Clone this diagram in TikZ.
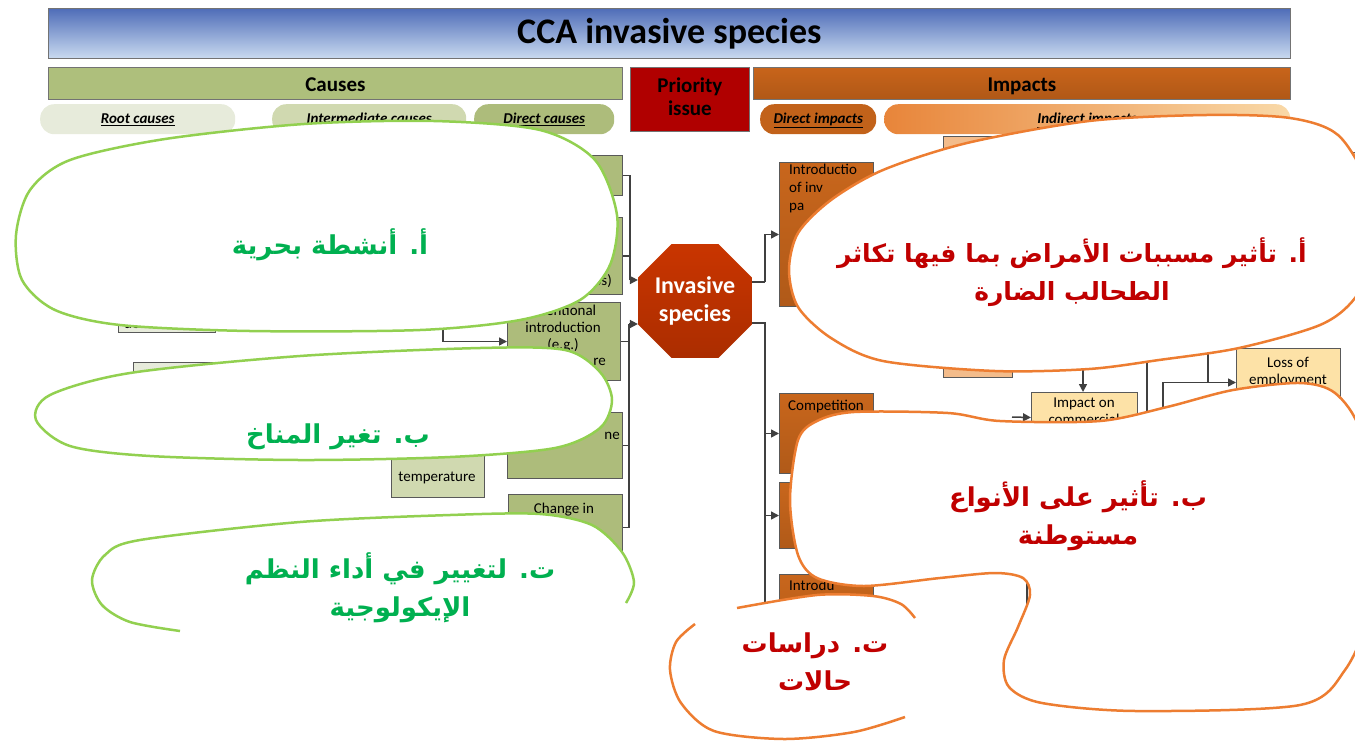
\documentclass[tikz,border=0pt]{standalone}
\usepackage{fontspec}
\setmainfont{Carlito}
\newfontfamily\arabicfont[Script=Arabic]{DejaVu Sans}
\TeXXeTstate=1
\usetikzlibrary{shapes.geometric,arrows.meta}
\definecolor{titletop}{HTML}{4F6DB8}
\definecolor{titlebot}{HTML}{C9DAF0}
\definecolor{causegreen}{HTML}{AEBF7C}
\definecolor{prioRed}{HTML}{B00000}
\definecolor{impactor}{HTML}{C8641A}
\definecolor{rootfill}{HTML}{E7EBDB}
\definecolor{interfill}{HTML}{D0D9B0}
\definecolor{directfill}{HTML}{ADBC7B}
\definecolor{dimpfill}{HTML}{C2621A}
\definecolor{indleft}{HTML}{E8853A}
\definecolor{indright}{HTML}{F9D9A8}
\definecolor{invred}{HTML}{C93500}
\definecolor{dibox}{HTML}{C8661C}
\definecolor{indbox}{HTML}{F3BC8B}
\definecolor{yelbox}{HTML}{FDE2A7}
\definecolor{blobgreen}{HTML}{92D050}
\definecolor{txtgreen}{HTML}{00B050}
\definecolor{bloborange}{HTML}{ED7D31}
\definecolor{txtred}{HTML}{C00000}
\definecolor{linkgray}{HTML}{404040}

\begin{document}
\begin{tikzpicture}[x=1pt,y=-1pt,
    sz/.style 2 args={minimum width=#1,minimum height=#2,anchor=north west},
    bar/.style={draw=black!55,line width=0.8pt,inner sep=0pt,font=\bfseries\fontsize{21}{24}\selectfont},
    onebar/.style={bar,text height=16pt,text depth=0pt},
    pill/.style={rounded corners=14pt,inner sep=0pt,text height=11pt,text depth=3pt,font=\bfseries\itshape\fontsize{15}{18}\selectfont},
    cbox/.style={draw=black!65,line width=1pt,inner sep=0pt},
    dibx/.style={cbox,top color=dibox,bottom color=dibox!88!black},
    btext/.style={inner sep=0pt,align=center,font=\fontsize{15}{17}\selectfont},
    link/.style={draw=linkgray,line width=1.5pt},
    arr/.style={link,-{Triangle[length=8pt,width=8pt]}},
    gblob/.style={draw=blobgreen,line width=2.5pt,fill=white},
    oblob/.style={draw=bloborange,line width=2.5pt,fill=white},
    gline/.style={draw=blobgreen,line width=2.5pt},
    oline/.style={draw=bloborange,line width=2.5pt},
    artext/.style={font=\arabicfont\bfseries\fontsize{26}{38}\selectfont,align=center,inner sep=0pt}]
    \useasboundingbox (0,0) rectangle (1355,740);
    \clip (0,0) rectangle (1355,740);

    \node[bar,sz={1242}{50},top color=titletop,bottom color=titlebot,font=\bfseries\fontsize{36}{40}\selectfont] (title) at (48,8) {CCA invasive species};
    \node[onebar,sz={574}{32},fill=causegreen] (causes) at (48,67) {Causes};
    \node[bar,sz={119}{64},fill=prioRed,align=center,font=\bfseries\fontsize{21}{23}\selectfont] (prio) at (630,67) {Priority\\issue\\[-17pt]};
    \node[onebar,sz={537}{32},top color=impactor,bottom color=impactor!88!black] (impacts) at (753,67) {Impacts};

    \node[pill,sz={195}{30},fill=rootfill] (rootp) at (40,104) {\underline{Root causes}};
    \node[pill,sz={194}{30},fill=interfill] (interp) at (272,104) {\underline{Intermediate causes}};
    \node[pill,sz={140}{30},fill=directfill] (directp) at (474,104) {\underline{Direct causes}};
    \node[pill,sz={116}{30},fill=dimpfill] (dimpp) at (760,104) {\underline{Direct impacts}};
    \node[pill,sz={406}{30},left color=indleft,right color=indright] (indp) at (884,104) {\underline{Indirect impacts}};

    \node[cbox,sz={97}{32},fill=rootfill] (root1) at (118,300) {};
    \node[cbox,sz={87}{50},fill=rootfill] (root2) at (133,362) {};
    \node[cbox,sz={93}{67},fill=interfill] (inter1) at (391,430) {};
    \node[cbox,sz={114}{40},fill=directfill] (dc1) at (508,155) {};
    \node[cbox,sz={114}{77},fill=directfill] (dc2) at (508,217) {};
    \node[cbox,sz={113}{78},fill=directfill] (dc3) at (507,302) {};
    \node[cbox,sz={115}{66},fill=directfill] (dc4) at (507,412) {};
    \node[cbox,sz={114}{66},fill=directfill] (dc5) at (508,494) {};

    \node[regular polygon,regular polygon sides=8,minimum size=114pt,inner sep=0pt,top color=invred,bottom color=invred!85!black,text=white,align=center,font=\bfseries\fontsize{24}{28}\selectfont] (inv) at (695,301) {Invasive\\species};

    \node[dibx,sz={94}{144}] (diA) at (779,162) {};
    \node[dibx,sz={94}{80}] (diB) at (779,393) {};
    \node[dibx,sz={94}{66}] (diC) at (779,482) {};
    \node[dibx,sz={94}{80}] (diD) at (779,574) {};
    \node[cbox,sz={69}{241},fill=indbox] (ind1) at (943,136) {};
    \node[cbox,sz={40}{100},fill=indbox] (ind2) at (1350,152) {};
    \node[cbox,sz={106}{50},fill=yelbox] (impact) at (1031,392) {};
    \node[cbox,sz={104}{68},fill=yelbox] (loss) at (1236,348) {};

    \node[btext,anchor=west] (root1t) at (124,323) {devel};
    \node[btext,anchor=east] (dc2t) at (612,281) {ps)};
    \node[btext] (dc3t) at (563,329) {Intentional\\introduction\\(e.g.)};
    \node[btext,anchor=east] (dc3r) at (606,362) {re};
    \node[btext,anchor=east] (dc4t) at (620,436) {ne};
    \node[btext] (dc5t) at (564,510) {Change in};
    \node[btext] (inter1t) at (437,478) {temperature};
    \node[btext,align=left,anchor=north west,font=\fontsize{15}{18}\selectfont] (diAt) at (789,164) {Introductio\\of inv\\pa};
    \node[btext] (diBt) at (826,407) {Competition};
    \node[btext,anchor=west] (diDt) at (789,585) {Introdu};
    \node[btext] (impactt) at (1084,411) {Impact on\\commercial};
    \node[btext] (losst) at (1288,372) {Loss of\\employment};

    \coordinate (jl1) at (630,280);
    \coordinate (jl2) at (629,324);
    \coordinate (jl3) at (443,320);
    \draw[link] (dc1.east) -| (jl1);
    \draw[link] (dc2.east) -- (dc2.east -| jl1);
    \draw[arr] (jl1) -- (jl1 -| inv.west);
    \draw[link] (dc3.east) -| (jl2);
    \draw[link] (dc4.east) -| (jl2);
    \draw[link] (dc5.east) -| (jl2);
    \draw[arr] (jl2) -- (jl2 -| inv.west);
    \draw[arr] (jl3) |- (dc3.west);

    \coordinate (jr1) at (765,282);
    \coordinate (jr2) at (765,323);
    \draw[link] (jr1 -| inv.east) -- (jr1);
    \draw[arr] (jr1) |- (diA.west);
    \draw[link] (jr2 -| inv.east) -- (jr2) -- (jr2 |- diD.west);
    \draw[arr] (jr2 |- diB.west) -- (diB.west);
    \draw[arr] (jr2 |- diC.west) -- (diC.west);
    \draw[arr] (jr2 |- diD.west) -- (diD.west);

    \coordinate (ja) at (1083,340);
    \coordinate (jb) at (1012,417);
    \coordinate (jc1) at (1147,340);
    \coordinate (jc2) at (1147,440);
    \coordinate (jd) at (1163,440);
    \coordinate (je) at (1208,340);
    \coordinate (jf1) at (1027,560);
    \coordinate (jf2) at (1027,650);
    \draw[arr] (ja) -- (ja |- impact.north);
    \draw[arr] (jb) -- (impact.west);
    \draw[link] (jc1) -- (jc2);
    \draw[arr] (jd) |- (loss.west);
    \draw[link] (je) -- (je |- loss.west);
    \draw[link] (jf1) -- (jf2);

    \draw[gblob] plot[smooth cycle] coordinates {(16,235) (30,190) (70,160) (165,139) (304,124) (434,121) (540,130) (595,160) (617,215) (610,265) (580,300) (520,320) (420,330) (250,331) (120,325) (55,310) (22,280)};
    \draw[gblob] plot[smooth cycle] coordinates {(36,420) (50,395) (130,373) (300,356) (480,348) (565,350) (600,372) (612,400) (600,428) (555,448) (450,457) (300,460) (150,456) (70,446)};
    \fill[white] plot[smooth cycle] coordinates {(92,580) (105,555) (140,540) (300,522) (450,515) (540,514) (592,525) (622,552) (634,582) (625,610) (560,635) (400,642) (250,638) (140,625) (102,605)};
    \draw[gline] plot[smooth] coordinates {(180,631) (130,622) (102,605) (92,580) (105,555) (140,540) (300,522) (450,515) (540,514) (592,525) (622,552) (634,582) (626,603)};

    \draw[oblob] plot[smooth cycle] coordinates {(789,270) (798,233) (831,200) (883,170) (967,143) (1089,121) (1206,115) (1290,118) (1338,135) (1368,185) (1378,250) (1355,298) (1320,325) (1239,348) (1159,360) (1089,369) (995,371) (883,361) (831,338) (798,307)};
    \draw[oblob] plot[smooth cycle] coordinates {(798,440) (817,421) (854,412) (948,413) (1000,421) (1100,421) (1167,407) (1233,390) (1300,383) (1335,393) (1360,430) (1378,520) (1370,610) (1345,670) (1300,705) (1136,711) (1042,703) (1009,687) (1004,660) (1018,627) (1030,595) (1023,578) (995,573) (940,578) (864,586) (817,578) (798,555) (790,500)};
    \fill[white] plot[smooth cycle] coordinates {(695,622) (737,608) (817,595) (873,596) (901,604) (915,618) (919,660) (905,717) (854,732) (784,739) (714,731) (681,703) (670,670) (676,640)};
    \draw[oline] plot[smooth] coordinates {(737,608) (817,595) (873,596) (901,604) (915,618)};
    \draw[oline] plot[smooth] coordinates {(695,624) (676,642) (670,670) (681,703) (714,731) (784,739) (854,732) (905,717)};

    \node[artext,text=txtgreen] (gAt) at (330,245) {\beginR أ. أنشطة بحرية\endR};
    \node[artext,text=txtgreen] (gBt) at (338,437) {\beginR ب. تغير المناخ\endR};
    \node[artext,text=txtgreen] (gCt) at (400,588) {\beginR ت. لتغيير في أداء النظم\endR\\\beginR الإيكولوجية\endR};
    \node[artext,text=txtred,font=\arabicfont\bfseries\fontsize{25}{38}\selectfont] (oAt) at (1072,272) {\beginR أ. تأثير مسببات الأمراض بما فيها تكاثر\endR\\\beginR الطحالب الضارة\endR};
    \node[artext,text=txtred] (oBt) at (1078,516) {\beginR ب. تأثير على الأنواع\endR\\\beginR مستوطنة\endR};
    \node[artext,text=txtred] (oCt) at (815,662) {\beginR ت. دراسات\endR\\\beginR حالات\endR};
\end{tikzpicture}
\end{document}
